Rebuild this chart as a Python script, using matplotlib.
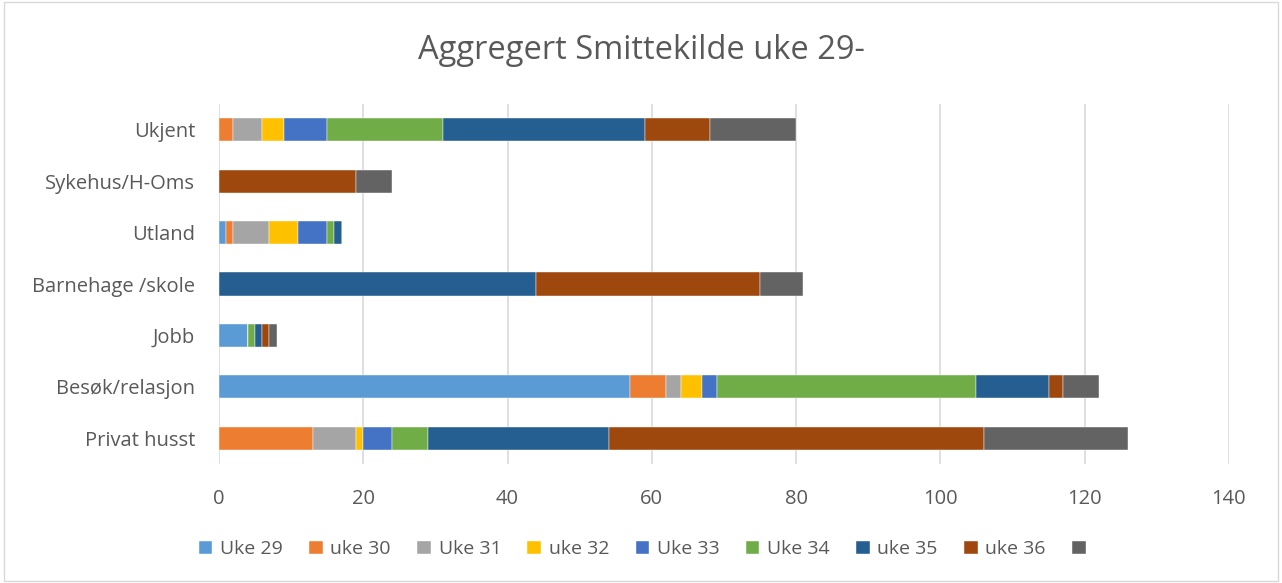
import matplotlib
matplotlib.use("Agg")
import matplotlib.pyplot as plt
import numpy as np

categories = ["Privat husst", "Besøk/relasjon", "Jobb", "Barnehage /skole",
              "Utland", "Sykehus/H-Oms", "Ukjent"]
series_labels = ["Uke 29", "uke 30", "Uke 31", "uke 32", "Uke 33",
                 "Uke 34", "uke 35", "uke 36", ""]
# values per series, in category order above
uke29 = [0, 57, 4, 0, 1, 0, 0]
uke30 = [13, 5, 0, 0, 1, 0, 2]
uke31 = [6, 2, 0, 0, 5, 0, 4]
uke32 = [1, 3, 0, 0, 4, 0, 3]
uke33 = [4, 2, 0, 0, 4, 0, 6]
uke34 = [5, 36, 1, 0, 1, 0, 16]
uke35 = [25, 10, 1, 44, 1, 0, 28]
uke36 = [52, 2, 1, 31, 0, 19, 9]
uke37 = [20, 5, 1, 6, 0, 5, 12]
series = [uke29, uke30, uke31, uke32, uke33, uke34, uke35, uke36, uke37]
colors = ["#5B9BD5", "#ED7D31", "#A5A5A5", "#FFC000", "#4472C4",
          "#70AD47", "#255E91", "#9E480E", "#636363"]

plt.rcParams['font.family'] = ['Open Sans', 'DejaVu Sans']

fig = plt.figure(figsize=(12.82, 5.83), dpi=100)
ax = fig.add_axes([0.1708, 0.2041, 0.7878, 0.6175])

y = np.arange(len(categories))
left = np.zeros(len(categories))
handles = []
for vals, col, lab in zip(series, colors, series_labels):
    h = ax.barh(y, vals, left=left, height=0.45, color=col,
                edgecolor="white", linewidth=0.3, label=lab, zorder=3)
    handles.append(h)
    left += np.array(vals)

ax.set_xlim(0, 140)
ax.set_ylim(-0.5, len(categories) - 0.5)
ax.set_xticks(np.arange(0, 141, 20))
ax.set_yticks(y)
ax.set_yticklabels(categories)
ax.xaxis.grid(True, color="#D9D9D9", linewidth=1.2, zorder=0)
ax.set_axisbelow(True)
for s in ax.spines.values():
    s.set_visible(False)
ax.tick_params(axis="both", length=0, labelsize=14.5, colors="#595959")
ax.tick_params(axis="x", pad=18)
ax.tick_params(axis="y", pad=17)

fig.text(0.5, 0.913, "Aggregert Smittekilde uke 29-", ha="center", va="center",
         fontsize=23.5, color="#595959")

leg = fig.legend(handles=handles, labels=series_labels, loc="center",
                 bbox_to_anchor=(0.504, 0.058), ncol=9, frameon=False,
                 fontsize=14, handlelength=0.7, handleheight=0.7,
                 handletextpad=0.4, columnspacing=1.35, labelcolor="#595959")

# outer border
fig.patches.append(plt.Rectangle((0.003, 0.003), 0.994, 0.994, transform=fig.transFigure,
                                 fill=False, edgecolor="#D9D9D9", linewidth=1))

fig.savefig("out.png", dpi=100)
